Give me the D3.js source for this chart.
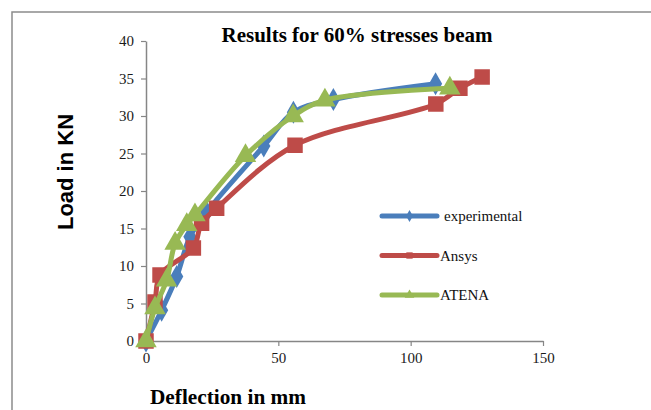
<!DOCTYPE html>
<html>
<head>
<meta charset="utf-8">
<script src="https://cdn.jsdelivr.net/npm/d3@7"></script>
<style>
  body { margin: 0; background: white; }
  svg { display: block; }
</style>
</head>
<body>
<div class="svg-wrap"></div>
<script>
// values (deflection mm, load kN)
let expX = [0, 5.9, 11.6, 16.6, 22.9, 44.5, 55.7, 70.8, 109.4];
let expY = [0, 4.1, 8.6, 13.9, 17.2, 26.0, 30.5, 32.2, 34.3];
let ansX = [0, 3.4, 5.3, 17.9, 21.0, 26.7, 56.3, 109.5, 118.6, 127.0];
let ansY = [0, 5.2, 8.8, 12.4, 15.7, 17.7, 26.1, 31.6, 33.7, 35.2];
let atnX = [0, 3.4, 7.8, 11.0, 15.4, 18.5, 37.6, 55.6, 67.6, 114.8];
let atnY = [0, 4.4, 8.1, 13.0, 15.5, 16.8, 24.7, 30.0, 32.1, 33.7];
let seriesNames = ["experimental", "Ansys", "ATENA"];
let xTicks = [0, 50, 100, 150];
let yTicks = [0, 5, 10, 15, 20, 25, 30, 35, 40];

let colors = ["#4a7ebb", "#be4b48", "#98b954"];
let shapes = [d3.symbolDiamond, d3.symbolSquare, d3.symbolTriangle];
let sizes = [150, 240, 200];

var width = 651, height = 410;

let svg = d3.select(".svg-wrap")
  .append("svg")
  .attr("width", width)
  .attr("height", height)
  .style("background-color", "white");

// outer chart border (only left and top visible)
svg.append("rect")
  .attr("x", 12).attr("y", 12)
  .attr("width", 700).attr("height", 450)
  .attr("fill", "none")
  .attr("stroke", "#8c8c8c")
  .attr("stroke-width", 1.5);

var x = d3.scaleLinear().domain([0, 150]).range([146, 543]);
var y = d3.scaleLinear().domain([0, 40]).range([341, 41]);

let xAxis = svg.append("g")
  .attr("transform", "translate(0," + y(0) + ")")
  .call(d3.axisBottom(x).tickValues(xTicks).tickSize(5).tickPadding(6).tickSizeOuter(0));

let yAxis = svg.append("g")
  .attr("transform", "translate(" + x(0) + ",0)")
  .call(d3.axisLeft(y).tickValues(yTicks).tickSize(5).tickPadding(7).tickSizeOuter(0));

[xAxis, yAxis].forEach(a => {
  a.select(".domain").attr("stroke", "#868686").attr("stroke-width", 1.5);
  a.selectAll(".tick line").attr("stroke", "#868686").attr("stroke-width", 1.2);
  a.selectAll(".tick text")
    .attr("fill", "#1a1a1a")
    .style("font-family", "'Liberation Serif', 'Times New Roman', serif")
    .style("font-size", "15px");
});

let data = [
  expX.map((v, i) => [v, expY[i]]),
  ansX.map((v, i) => [v, ansY[i]]),
  atnX.map((v, i) => [v, atnY[i]])
];

let line = d3.line()
  .x(d => x(d[0]))
  .y(d => y(d[1]))
  .curve(d3.curveCatmullRom.alpha(0.5));

data.forEach((pts, k) => {
  let g = svg.append("g").attr("class", "series");
  g.append("path")
    .datum(pts)
    .attr("d", line)
    .attr("fill", "none")
    .attr("stroke", colors[k])
    .attr("stroke-width", 5)
    .attr("stroke-linecap", "round");
  g.selectAll(".pt")
    .data(pts)
    .enter()
    .append("path")
    .attr("class", "pt")
    .attr("transform", d => "translate(" + x(d[0]) + "," + y(d[1]) + ")")
    .attr("d", d3.symbol().type(shapes[k]).size(sizes[k]))
    .attr("fill", colors[k]);
});

// legend
let legend = svg.append("g").attr("id", "legend")
  .selectAll("g")
  .data(seriesNames)
  .enter()
  .append("g")
  .attr("transform", (d, i) => "translate(382," + (216 + i * 39.5) + ")");

legend.append("line")
  .attr("x1", 0).attr("x2", 55)
  .attr("stroke", (d, i) => colors[i])
  .attr("stroke-width", 5)
  .attr("stroke-linecap", "round");

legend.append("path")
  .attr("transform", "translate(27.5,0)")
  .attr("d", (d, i) => d3.symbol().type(shapes[i]).size(40)())
  .attr("fill", (d, i) => colors[i]);

legend.append("text")
  .attr("x", (d, i) => i === 0 ? 62 : 58)
  .attr("dy", "0.35em")
  .style("font-family", "'Liberation Serif', 'Times New Roman', serif")
  .style("font-size", "15px")
  .attr("fill", "#111")
  .text(d => d);

// titles
svg.append("text")
  .attr("x", 357).attr("y", 42)
  .attr("text-anchor", "middle")
  .style("font-family", "'Liberation Serif', 'Times New Roman', serif")
  .style("font-weight", "bold")
  .style("font-size", "21px")
  .text("Results for 60% stresses beam");

svg.append("text")
  .attr("transform", "translate(73,172) rotate(-90)")
  .attr("text-anchor", "middle")
  .style("font-family", "'Liberation Sans', Arial, sans-serif")
  .style("font-weight", "bold")
  .style("font-size", "22px")
  .text("Load in KN");

svg.append("text")
  .attr("x", 228).attr("y", 404)
  .attr("text-anchor", "middle")
  .style("font-family", "'Liberation Serif', 'Times New Roman', serif")
  .style("font-weight", "bold")
  .style("font-size", "20px")
  .attr("textLength", 156)
  .attr("lengthAdjust", "spacingAndGlyphs")
  .text("Deflection in mm");
</script>
</body>
</html>
